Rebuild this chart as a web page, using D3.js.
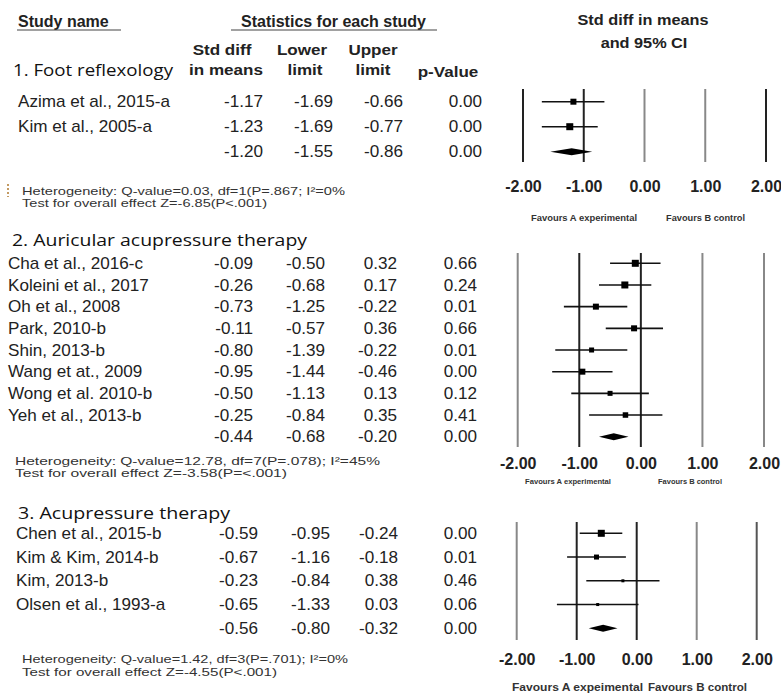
<!DOCTYPE html>
<html><head><meta charset="utf-8">
<script src="https://cdn.jsdelivr.net/npm/d3@7"></script>
<style>
body{margin:0;background:#fff;}
svg{display:block;}
</style></head>
<body>
<svg id="c" width="781" height="694"></svg>
<script>
// ---------- DATA ----------
const ticks = [-2, -1, 0, 1, 2];
const tickLabels = ["-2.00", "-1.00", "0.00", "1.00", "2.00"];

const g1Title = "1. Foot reflexology";
const g1Studies = ["Azima et al., 2015-a", "Kim et al., 2005-a"];
const g1Effect = [-1.17, -1.23];
const g1Lower = [-1.69, -1.69];
const g1Upper = [-0.66, -0.77];
const g1P = [0.00, 0.00];
const g1Weight = [6, 7];
const g1Summary = [-1.20, -1.55, -0.86, 0.00];
const g1Het = ["Heterogeneity: Q-value=0.03, df=1(P=.867; I\u00B2=0%", "Test for overall effect Z=-6.85(P<.001)"];
const g1Fav = ["Favours A  experimental", "Favours B  control"];

const g2Title = "2. Auricular acupressure therapy";
const g2Studies = ["Cha et al., 2016-c", "Koleini et al., 2017", "Oh et al., 2008", "Park, 2010-b", "Shin, 2013-b", "Wang et at., 2009", "Wong et al. 2010-b", "Yeh et al., 2013-b"];
const g2Effect = [-0.09, -0.26, -0.73, -0.11, -0.80, -0.95, -0.50, -0.25];
const g2Lower = [-0.50, -0.68, -1.25, -0.57, -1.39, -1.44, -1.13, -0.84];
const g2Upper = [0.32, 0.17, -0.22, 0.36, -0.22, -0.46, 0.13, 0.35];
const g2P = [0.66, 0.24, 0.01, 0.66, 0.01, 0.00, 0.12, 0.41];
const g2Weight = [7, 7, 6, 6, 5, 6, 5, 5.5];
const g2Summary = [-0.44, -0.68, -0.20, 0.00];
const g2Het = ["Heterogeneity: Q-value=12.78, df=7(P=.078); I\u00B2=45%", "Test for overall effect Z=-3.58(P=<.001)"];
const g2Fav = ["Favours A  experimental", "Favours B  control"];

const g3Title = "3. Acupressure therapy";
const g3Studies = ["Chen et al., 2015-b", "Kim & Kim, 2014-b", "Kim, 2013-b", "Olsen et al., 1993-a"];
const g3Effect = [-0.59, -0.67, -0.23, -0.65];
const g3Lower = [-0.95, -1.16, -0.84, -1.33];
const g3Upper = [-0.24, -0.18, 0.38, 0.03];
const g3P = [0.00, 0.01, 0.46, 0.06];
const g3Weight = [7, 5, 3, 3];
const g3Summary = [-0.56, -0.80, -0.32, 0.00];
const g3Het = ["Heterogeneity: Q-value=1.42, df=3(P=.701); I\u00B2=0%", "Test for overall effect Z=-4.55(P<.001)"];
const g3Fav = ["Favours A expeimental", "Favours B control"];

// ---------- LAYOUT ----------
const svg = d3.select("#c");
const tableFont = "'Liberation Sans', Arial, sans-serif";
const koFont = "'Open Sans', 'Noto Sans', sans-serif";
const fmt = v => d3.format(".2f")(v).replace("\u2212", "-");

// text with horizontal stretch
function stext(parent, x, y, txt, sx, anchor) {
  return parent.append("text")
    .attr("transform", `translate(${x},${y}) scale(${sx},1)`)
    .attr("dy", "0.35em")
    .attr("text-anchor", anchor || "start")
    .text(txt);
}

// header
const hdr = svg.append("g").attr("font-family", tableFont).attr("font-weight", "bold").attr("fill", "#222");
stext(hdr, 18, 21, "Study name", 1.0).attr("font-size", 16);
hdr.append("line").attr("x1", 17).attr("x2", 121).attr("y1", 30).attr("y2", 30).attr("stroke", "#444").attr("stroke-width", 1.2);
stext(hdr, 333.5, 21, "Statistics for each study", 1.0, "middle").attr("font-size", 16);
hdr.append("line").attr("x1", 231).attr("x2", 437).attr("y1", 30).attr("y2", 30).attr("stroke", "#444").attr("stroke-width", 1.2);
[["Std diff", 222, 50], ["in means", 226, 70], ["Lower", 302, 50], ["limit", 305, 70], ["Upper", 373, 50], ["limit", 373, 70], ["p-Value", 448, 72]]
  .forEach(d => stext(hdr, d[1], d[2], d[0], 1.1, "middle").attr("font-size", 15.5));
stext(hdr, 643, 20, "Std diff in means", 1.05, "middle").attr("font-size", 15.5);
stext(hdr, 644, 43, "and 95% CI", 1.05, "middle").attr("font-size", 15.5);

function group(cfg) {
  const n = cfg.studies.length;
  const rows = d3.range(n + 1);
  const y = d3.scalePoint().domain(rows).range(cfg.rowRange);
  const x = d3.scaleLinear().domain([-2, 2]).range(cfg.xRange);
  const g = svg.append("g");

  // title
  g.append("text").attr("x", cfg.titlePos[0]).attr("y", cfg.titlePos[1]).attr("dy", "0.35em")
    .attr("font-family", koFont).attr("font-size", 17).attr("fill", "#111")
    .attr("textLength", cfg.titleLen).attr("lengthAdjust", "spacingAndGlyphs").text(cfg.title);

  // table
  const tb = g.append("g").attr("font-family", tableFont).attr("font-size", 16).attr("fill", "#222");
  cfg.studies.forEach((s, i) => stext(tb, cfg.nameX, y(i), s, 1.07));
  const cols = [cfg.effect, cfg.lower, cfg.upper, cfg.p];
  cols.forEach((arr, c) => {
    arr.concat([cfg.summary[c]]).forEach((v, i) => stext(tb, cfg.colX[c], y(i), fmt(v), 1.07, "end"));
  });

  // heterogeneity
  cfg.het.forEach((t, i) => {
    g.append("text").attr("x", cfg.hetPos[0]).attr("y", cfg.hetPos[1] + i * 12.8).attr("dy", "0.35em")
      .attr("font-family", tableFont).attr("font-size", 11).attr("fill", "#333")
      .attr("textLength", cfg.hetLen[i]).attr("lengthAdjust", "spacingAndGlyphs").text(t);
  });

  // vertical reference lines
  g.selectAll(".vl").data(ticks).join("line")
    .attr("x1", d => x(d)).attr("x2", d => x(d))
    .attr("y1", cfg.lineY[0]).attr("y2", cfg.lineY[1])
    .attr("stroke", (d, i) => cfg.lineColors[i]).attr("stroke-width", 2);

  // axis labels
  const axis = d3.axisBottom(x).tickValues(ticks).tickSize(0).tickFormat((d, i) => tickLabels[i]);
  const ag = g.append("g").attr("transform", `translate(0,${cfg.tickY})`).call(axis);
  ag.select(".domain").remove();
  ag.selectAll("text").attr("font-family", tableFont).attr("font-weight", "bold").attr("font-size", 16)
    .attr("fill", "#222").attr("dy", "0.35em").attr("y", 0);

  // CIs & squares
  cfg.studies.forEach((s, i) => {
    g.append("line").attr("x1", x(cfg.lower[i])).attr("x2", x(cfg.upper[i]))
      .attr("y1", y(i)).attr("y2", y(i)).attr("stroke", "#111").attr("stroke-width", 1.6);
    const w = cfg.weight[i];
    g.append("rect").attr("x", x(cfg.effect[i]) - w / 2).attr("y", y(i) - w / 2)
      .attr("width", w).attr("height", w).attr("fill", "#000");
  });
  // diamond
  const sy = y(n), s = cfg.summary;
  g.append("path").attr("d", `M${x(s[1])},${sy}L${x(s[0])},${sy - 3.5}L${x(s[2])},${sy}L${x(s[0])},${sy + 3.5}Z`)
    .attr("fill", "#000");

  // favours
  cfg.fav.forEach((t, i) => {
    g.append("text").attr("x", cfg.favX[i]).attr("y", cfg.favY).attr("dy", "0.35em").attr("text-anchor", "middle")
      .attr("font-family", tableFont).attr("font-weight", "bold").attr("font-size", cfg.favSize).attr("fill", "#333")
      .attr("textLength", cfg.favLen[i]).attr("lengthAdjust", "spacingAndGlyphs").text(t);
  });
}

group({
  title: g1Title, studies: g1Studies, effect: g1Effect, lower: g1Lower, upper: g1Upper, p: g1P, weight: g1Weight,
  summary: g1Summary, het: g1Het, fav: g1Fav,
  titlePos: [13, 70], titleLen: 160, rowRange: [101.7, 151.7], nameX: 18, colX: [263, 333, 403, 482],
  hetPos: [22, 190.8], hetLen: [323, 245], xRange: [523, 766], lineY: [89, 162], tickY: 186.7,
  lineColors: ["#222", "#222", "#888", "#888", "#222"], favY: 218, favX: [584, 705.5], favSize: 9, favLen: [106, 79]
});
group({
  title: g2Title, studies: g2Studies, effect: g2Effect, lower: g2Lower, upper: g2Upper, p: g2P, weight: g2Weight,
  summary: g2Summary, het: g2Het, fav: g2Fav,
  titlePos: [12, 240], titleLen: 295, rowRange: [263.3, 436.7], nameX: 8, colX: [253, 325, 397, 477],
  hetPos: [15, 460.8], hetLen: [365, 272], xRange: [517.7, 764], lineY: [253, 447], tickY: 463.5,
  lineColors: ["#888", "#222", "#222", "#888", "#888"], favY: 481, favX: [568, 690], favSize: 7.5, favLen: [86, 64]
});
group({
  title: g3Title, studies: g3Studies, effect: g3Effect, lower: g3Lower, upper: g3Upper, p: g3P, weight: g3Weight,
  summary: g3Summary, het: g3Het, fav: g3Fav,
  titlePos: [18, 513], titleLen: 212, rowRange: [533.3, 628.3], nameX: 16, colX: [258, 330, 398, 477],
  hetPos: [22, 659], hetLen: [326, 255], xRange: [516.7, 756.7], lineY: [522, 640], tickY: 659,
  lineColors: ["#888", "#222", "#222", "#888", "#555"], favY: 687.5, favX: [577.5, 697.5], favSize: 10.5, favLen: [131, 99]
});

// small dotted mark at left of first heterogeneity line
svg.append("line").attr("x1", 8).attr("x2", 8).attr("y1", 184).attr("y2", 197)
  .attr("stroke", "#b07a30").attr("stroke-width", 1.5).attr("stroke-dasharray", "2,2");
</script>
</body></html>
